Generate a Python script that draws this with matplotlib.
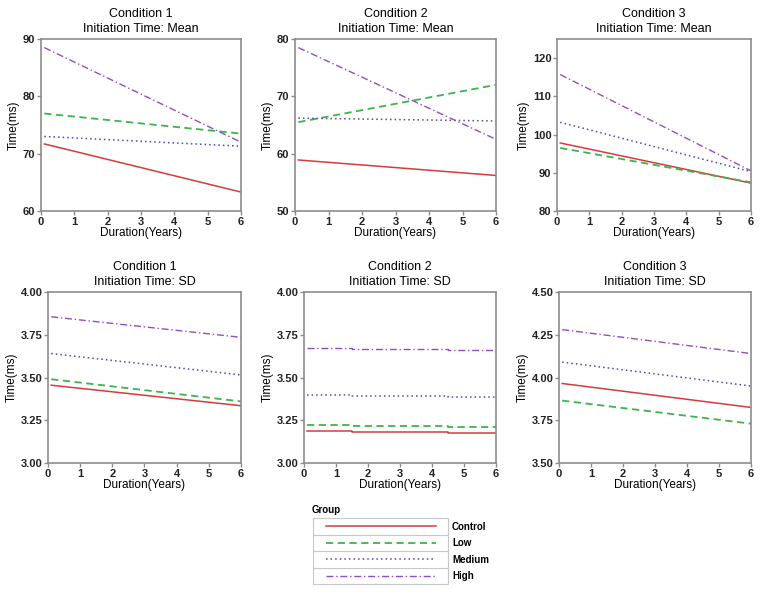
import numpy as np
import matplotlib.pyplot as plt

plt.rcParams['font.family'] = ['Liberation Sans', 'DejaVu Sans']

# Data (x = duration in years)
groups = ['Control', 'Low', 'Medium', 'High']
x_ends = [0.1, 6]

# Initiation time: mean
c1_mean = {'Control': [71.7, 63.3], 'Low': [77.0, 73.5], 'Medium': [73.0, 71.3], 'High': [88.5, 72.0]}
c2_mean = {'Control': [58.9, 56.2], 'Low': [65.5, 72.0], 'Medium': [66.2, 65.7], 'High': [78.5, 62.5]}
c3_mean = {'Control': [97.8, 87.3], 'Low': [96.5, 87.5], 'Medium': [103.2, 90.3], 'High': [115.7, 90.5]}

# Initiation time: SD
c1_sd = {'Control': [3.455, 3.335], 'Low': [3.49, 3.36], 'Medium': [3.64, 3.515], 'High': [3.855, 3.735]}
c3_sd = {'Control': [3.965, 3.825], 'Low': [3.865, 3.73], 'Medium': [4.09, 3.95], 'High': [4.28, 4.14]}
# condition 2 SD has small steps at 1.5 and 4.5 years
x_steps = [0.1, 1.5, 1.5, 4.5, 4.5, 6]
c2_sd = {'Control': [3.19, 3.19, 3.182, 3.182, 3.177, 3.177],
         'Low': [3.222, 3.222, 3.215, 3.215, 3.21, 3.21],
         'Medium': [3.395, 3.395, 3.39, 3.39, 3.385, 3.385],
         'High': [3.672, 3.672, 3.665, 3.665, 3.66, 3.66]}

styles = {
    'Control': dict(color='#d43c3c', linestyle='-', lw=1.1),
    'Low': dict(color='#3cb44b', linestyle=(0, (4, 2.5)), lw=1.3),
    'Medium': dict(color='#4a4ab8', linestyle=(0, (1, 2)), lw=1.1),
    'High': dict(color='#8e4fc4', linestyle=(0, (5, 2, 1, 2)), lw=1.0),
}

panels = [
    ('Condition 1\nInitiation Time: Mean', x_ends, c1_mean, (60, 90), [60, 70, 80, 90], '%d'),
    ('Condition 2\nInitiation Time: Mean', x_ends, c2_mean, (50, 80), [50, 60, 70, 80], '%d'),
    ('Condition 3\nInitiation Time: Mean', x_ends, c3_mean, (80, 125), [80, 90, 100, 110, 120], '%d'),
    ('Condition 1\nInitiation Time: SD', x_ends, c1_sd, (3.0, 4.0), [3.0, 3.25, 3.5, 3.75, 4.0], '%.2f'),
    ('Condition 2\nInitiation Time: SD', x_steps, c2_sd, (3.0, 4.0), [3.0, 3.25, 3.5, 3.75, 4.0], '%.2f'),
    ('Condition 3\nInitiation Time: SD', x_ends, c3_sd, (3.5, 4.5), [3.5, 3.75, 4.0, 4.25, 4.5], '%.2f'),
]

W, H = 762, 593
# axes boxes in pixels: left, top, right, bottom
boxes = [(41, 39, 241, 211), (295, 39, 496, 211), (557, 39, 751, 211),
         (48, 292, 241, 463), (304, 292, 496, 463), (559, 292, 751, 463)]

fig = plt.figure(figsize=(W / 100, H / 100), dpi=100)
frame = '#8c8c8c'

for (title, xs, data, ylim, yticks, fmt), (l, t, r, b) in zip(panels, boxes):
    ax = fig.add_axes([l / W, 1 - b / H, (r - l) / W, (b - t) / H])
    for g in groups:
        ax.plot(xs, data[g], **styles[g])
    ax.set_xlim(0, 6)
    ax.set_ylim(*ylim)
    ax.set_xticks(range(7))
    ax.set_yticks(yticks)
    ax.set_yticklabels([fmt % v for v in yticks])
    ax.set_title(title, fontsize=9, pad=5, linespacing=1.3)
    ax.set_xlabel('Duration(Years)', fontsize=8.5, labelpad=0)
    ax.set_ylabel('Time(ms)', fontsize=8.5, labelpad=2)
    for s in ax.spines.values():
        s.set_color(frame)
        s.set_linewidth(1.2)
    ax.tick_params(colors='#222222', length=3, width=1, labelsize=8, pad=1)
    ax.tick_params(color=frame)
    for lab in ax.get_xticklabels() + ax.get_yticklabels():
        lab.set_fontweight('bold')

# legend drawn as a small table
lax = fig.add_axes([0, 0, 1, 1], facecolor='none')
lax.set_xlim(0, W)
lax.set_ylim(H, 0)
lax.axis('off')
lax.text(312, 510, 'Group', fontsize=7, fontweight='bold', va='center')
row_edges = [518, 534.5, 551, 567.5, 584]
lax.plot([313, 448, 448, 313, 313], [518, 518, 584, 584, 518], color='#c8c8c8', lw=0.8)
for i, g in enumerate(groups):
    y0, y1 = row_edges[i], row_edges[i + 1]
    if i > 0:
        lax.plot([313, 448], [y0, y0], color='#c8c8c8', lw=0.8)
    ym = (y0 + y1) / 2
    lax.plot([326, 436], [ym, ym], **styles[g])
    lax.text(452, ym + 0.5, g, fontsize=7, fontweight='bold', va='center')

fig.savefig('out.png', dpi=100)
